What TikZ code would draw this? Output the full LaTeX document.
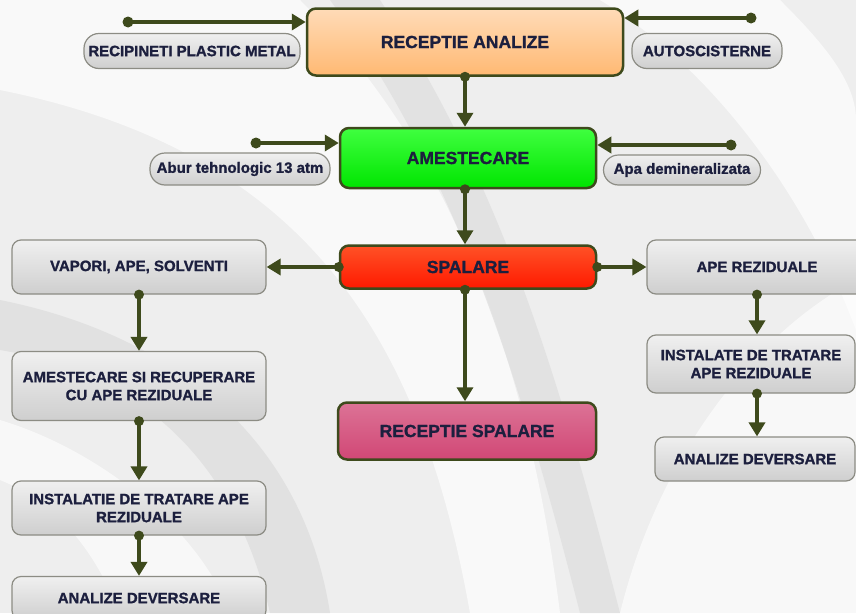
\documentclass[tikz,border=0pt]{standalone}
\usepackage{fontspec}
\setmainfont{Liberation Sans}[BoldFeatures={FakeBold=1.2}]
\usetikzlibrary{arrows.meta}
\definecolor{lineol}{HTML}{3E4A1C}
\definecolor{textnavy}{HTML}{1C1F3E}
\definecolor{sidegray}{HTML}{8C8C84}
\definecolor{bggray}{HTML}{EEEEEE}
\definecolor{streak}{HTML}{DEDEDE}

\begin{document}
\begin{tikzpicture}[x=1pt,y=-1pt]
% Definition des styles
\tikzset{
box/.style={draw=lineol, line width=2.5pt, rounded corners=9pt, align=center, text=textnavy, inner sep=0pt, font=\bfseries\fontsize{17.5}{20}\selectfont},
side/.style={draw=sidegray, line width=1.2pt, rounded corners=9pt, align=center, text=textnavy, inner sep=0pt, top color=gray!12, bottom color=gray!38, font=\bfseries\fontsize{15}{18}\selectfont},
pill/.style={side, rounded corners=15pt},
link/.style={draw=lineol, line width=3.5pt, -{Triangle[length=14pt,width=16pt]}},
dot/.style={fill=lineol}
}
% Fond
\fill[bggray] (0,0) rectangle (856,613);
\fill[white, opacity=0.7] (0,0) -- (300,0) .. controls (420,120) and (520,300) .. (560,613) -- (470,613) .. controls (420,330) and (300,150) .. (0,90) -- cycle;
\fill[streak, opacity=0.7] (330,0) -- (380,0) .. controls (500,180) and (560,380) .. (620,613) -- (580,613) .. controls (520,380) and (460,180) .. (330,0) -- cycle;
\fill[white, opacity=0.7] (600,0) -- (780,0) .. controls (820,40) and (856,80) .. (856,120) -- (856,330) .. controls (800,180) and (700,60) .. (600,0) -- cycle;
\fill[white, opacity=0.6] (620,613) .. controls (660,450) and (760,330) .. (856,280) -- (856,613) -- cycle;
\fill[streak, opacity=0.8] (0,300) .. controls (150,330) and (300,420) .. (330,613) -- (270,613) .. controls (230,440) and (120,370) .. (0,350) -- cycle;
\fill[white, opacity=0.6] (0,420) .. controls (100,450) and (200,530) .. (230,613) -- (120,613) .. controls (90,540) and (50,500) .. (0,480) -- cycle;
\useasboundingbox (0,0) rectangle (856,613);
% Reception
\node[box, top color=orange!28, bottom color=orange!55, minimum width=316pt, minimum height=67pt] (ra) at (465,42) {RECEPTIE ANALIZE};
\node[pill, minimum width=216pt, minimum height=35pt] (rpm) at (192,51) {RECIPINETI PLASTIC METAL};
\node[pill, minimum width=150pt, minimum height=35pt] (auto) at (707,51) {AUTOSCISTERNE};
% Amestecare
\node[box, top color=green!75, bottom color=green!90!black, minimum width=256pt, minimum height=60pt] (am) at (468,158) {AMESTECARE};
\node[pill, minimum width=180pt, minimum height=32pt] (abur) at (240,169) {Abur tehnologic 13 atm};
\node[pill, minimum width=157pt, minimum height=30pt] (apa) at (682,170) {Apa demineralizata};
% Spalare
\node[box, top color=red!60!orange!85, bottom color=red!80!orange, minimum width=256pt, minimum height=43pt] (sp) at (468,267) {SPALARE};
\node[box, top color=purple!55!white, bottom color=purple!72!white, minimum width=258pt, minimum height=57pt] (rs) at (467,431) {RECEPTIE SPALARE};
% Coloana stanga
\node[side, minimum width=254pt, minimum height=54pt] (vap) at (139,267) {VAPORI, APE, SOLVENTI};
\node[side, minimum width=254pt, minimum height=69pt] (asr) at (139,386) {AMESTECARE SI RECUPERARE\\CU APE REZIDUALE};
\node[side, minimum width=254pt, minimum height=54pt] (itl) at (139,508) {INSTALATIE DE TRATARE APE\\REZIDUALE};
\node[side, minimum width=254pt, minimum height=43pt] (adl) at (139,598) {ANALIZE DEVERSARE};
% Coloana dreapta
\node[side, minimum width=220pt, minimum height=54pt] (aper) at (757,267) {APE REZIDUALE};
\node[side, minimum width=208pt, minimum height=58pt] (itr) at (751,364) {INSTALATE DE TRATARE\\APE REZIDUALE};
\node[side, minimum width=200pt, minimum height=44pt] (adr) at (755,459) {ANALIZE DEVERSARE};
% Intrari
\coordinate (rpm-in) at (128,22);
\coordinate (auto-in) at (751,18);
\coordinate (abur-in) at (256,143);
\coordinate (apa-in) at (731,145);
\draw[link] (rpm-in) -- (ra.west |- rpm-in);
\fill[dot] (rpm-in) circle (5.5);
\draw[link] (auto-in) -- (ra.east |- auto-in);
\fill[dot] (auto-in) circle (5.5);
\draw[link] (abur-in) -- (am.west |- abur-in);
\fill[dot] (abur-in) circle (5.5);
\draw[link] (apa-in) -- (am.east |- apa-in);
\fill[dot] (apa-in) circle (5.5);
% Flux principal
\draw[link] (ra.south) -- (ra.south |- am.north);
\fill[dot] (ra.south) circle (5);
\draw[link] (ra.south |- am.south) -- (ra.south |- sp.north);
\fill[dot] (ra.south |- am.south) circle (5);
\draw[link] (ra.south |- sp.south) -- (ra.south |- rs.north);
\fill[dot] (ra.south |- sp.south) circle (5);
\draw[link] (sp.west) -- (vap.east);
\fill[dot] (sp.west) circle (5);
\draw[link] (sp.east) -- (aper.west);
\fill[dot] (sp.east) circle (5);
% Stanga
\draw[link] (vap.south) -- (asr.north);
\fill[dot] (vap.south) circle (5);
\draw[link] (asr.south) -- (itl.north);
\fill[dot] (asr.south) circle (5);
\draw[link] (itl.south) -- (adl.north);
\fill[dot] (itl.south) circle (5);
% Dreapta
\draw[link] (aper.south) -- (aper.south |- itr.north);
\fill[dot] (aper.south) circle (5);
\draw[link] (aper.south |- itr.south) -- (aper.south |- adr.north);
\fill[dot] (aper.south |- itr.south) circle (5);
\end{tikzpicture}
\end{document}
